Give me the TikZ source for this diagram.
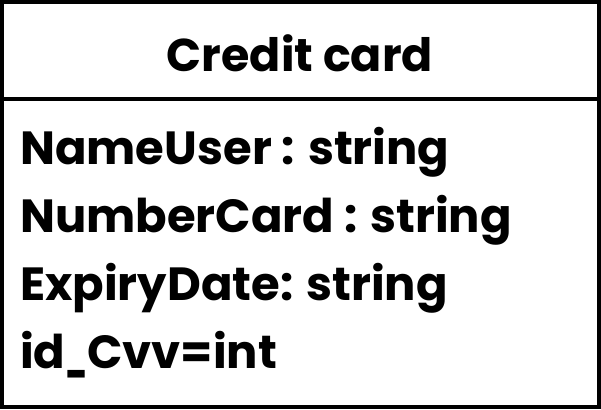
\documentclass[tikz,border=0pt]{standalone}
\usepackage{fontspec}
\usepackage{graphicx}
\setmainfont{Poppins}
\begin{document}
\begin{tikzpicture}[x=1pt,y=-1pt,
  attr/.style={anchor=base west,inner sep=0pt,font=\fontsize{46.5}{50}\selectfont\bfseries},
  ttl/.style={anchor=base,inner sep=0pt,font=\fontsize{46}{50}\selectfont\bfseries},
  frame/.style={draw=black,line width=4pt}]
\useasboundingbox (0,0) rectangle (601,409);
\draw[frame] (2,2) rectangle (599,407);
\draw[frame] (0,99) -- (601,99);
\node[ttl] (title) at (300,72) {Credit card};
\node[attr] (a1) at (20,164) {NameUser : string};
\node[attr] (a2) at (20,232) {NumberCard : string};
\node[attr] (a3) at (20,300) {ExpiryDate: string};
\node[attr] (a4) at (20,368) {id\scalebox{0.6}[1]{\_}Cvv=int};
\end{tikzpicture}
\end{document}
